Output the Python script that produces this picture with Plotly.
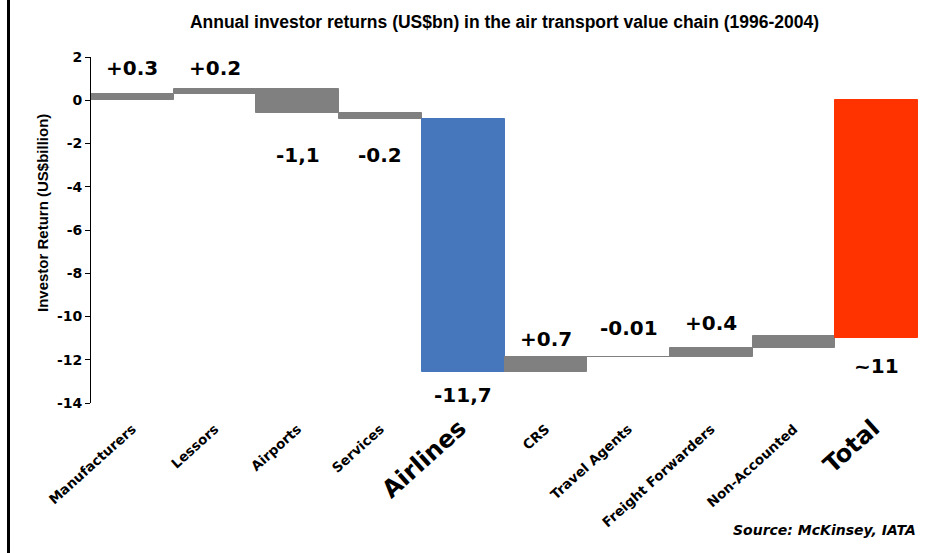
import plotly.graph_objects as go

# ---------------- data ----------------
categories = ["Manufacturers", "Lessors", "Airports", "Services", "Airlines",
              "CRS", "Travel Agents", "Freight Forwarders", "Non-Accounted", "Total"]
changes = [0.3, 0.2, -1.1, -0.25, -11.7, 0.7, -0.01, 0.4, 0.55]
total_value = -11.0
value_labels = ["+0.3", "+0.2", "-1,1", "-0.2", "-11,7", "+0.7", "-0.01", "+0.4", "", "~11"]
y_tick_values = [2, 0, -2, -4, -6, -8, -10, -12, -14]
big_categories = ["Airlines", "Total"]

# ---------------- styles ----------------
GRAY = "#808080"
BLUE = "#4677BD"
RED = "#FF3300"
FONT = "Arial, Liberation Sans, sans-serif"
WIDE = "DejaVu Sans, Arial, sans-serif"
bar_colors = [GRAY] * 4 + [BLUE] + [GRAY] * 4 + [RED]

# bar bases from running totals
bases, heights = [], []
running = 0.0
for c in changes:
    bases.append(running)
    heights.append(c)
    running += c
bases.append(0.0)
heights.append(total_value)

xs = list(range(len(categories)))

fig = go.Figure()
fig.add_trace(go.Bar(
    x=xs, y=heights, base=bases,
    marker=dict(color=bar_colors, line=dict(color=bar_colors, width=1)),
    width=1.0, hoverinfo="skip", showlegend=False,
))

# label positions (layout, data units)
label_y = [1.5, 1.5, -2.55, -2.55, -13.65, -11.05, -10.55, -10.3, None, -12.3]
for i, (txt, ly) in enumerate(zip(value_labels, label_y)):
    if not txt:
        continue
    fig.add_annotation(x=xs[i], y=ly, text=txt, showarrow=False,
                       xanchor="center", yanchor="middle",
                       font=dict(family=WIDE, size=20, color="black", weight="bold"))

ymin, ymax = min(y_tick_values), max(y_tick_values)
zero_pos = (0 - ymin) / (ymax - ymin)

tick_text = [f"<span style='font-size:24px'>{c}</span>" if c in big_categories else c
             for c in categories]

W, H = 952, 553
L, R, T, B = 91, 34, 57, 150
pw, ph = W - L - R, H - T - B

fig.update_layout(
    width=W, height=H,
    margin=dict(l=L, r=R, t=T, b=B, pad=0),
    paper_bgcolor="white", plot_bgcolor="white",
    bargap=0,
    title=dict(text="Annual investor returns (US$bn) in the air transport value chain (1996-2004)",
               x=(L + pw / 2) / W, xanchor="center", y=1 - 22 / H, yanchor="middle",
               font=dict(family="Liberation Sans Narrow, Arial Narrow, " + FONT, size=17.5,
                         color="black", weight="bold")),
    xaxis=dict(range=[-0.5, len(categories) - 0.5], tickvals=xs, ticktext=tick_text,
               tickangle=-42, showline=False, ticks="outside", ticklen=12,
               tickcolor="rgba(0,0,0,0)", showgrid=False, zeroline=False,
               tickfont=dict(family=WIDE, size=13.5, color="black", weight="bold")),
    xaxis2=dict(overlaying="x", anchor="free", position=zero_pos, side="bottom",
                range=[-0.5, len(categories) - 0.5],
                tickvals=[i + 0.5 for i in xs], showticklabels=False,
                ticks="outside", ticklen=5, tickcolor="black",
                showline=True, linecolor="black", linewidth=1,
                showgrid=False, zeroline=False),
    yaxis=dict(range=[ymin, ymax], tickvals=y_tick_values,
               ticktext=[str(v) for v in y_tick_values],
               showline=True, linecolor="black", linewidth=1,
               ticks="outside", ticklen=5, tickcolor="black",
               showgrid=False, zeroline=False,
               tickfont=dict(family=WIDE, size=14, color="black", weight="bold")),
)

# y axis title
fig.add_annotation(xref="paper", yref="paper", x=(42 - L) / pw, y=1 - (213 - T) / ph,
                   text="Investor Return (US$billion)", textangle=-90, showarrow=False,
                   xanchor="center", yanchor="middle",
                   font=dict(family=FONT, size=15, color="black", weight="bold"))

# source
fig.add_annotation(xref="paper", yref="paper", x=1.0, y=1 - (530 - T) / ph,
                   text="<i>Source: McKinsey, IATA</i>", showarrow=False,
                   xanchor="right", yanchor="middle",
                   font=dict(family=WIDE, size=14, color="black", weight="bold"))

# left frame line
fig.add_shape(type="line", xref="paper", yref="paper",
              x0=(8.5 - L) / pw, x1=(8.5 - L) / pw, y0=-B / ph, y1=1 + T / ph,
              line=dict(color="black", width=3))

fig.write_html("out.html", config={"displayModeBar": False},
               post_script="document.body.style.margin='0';")
